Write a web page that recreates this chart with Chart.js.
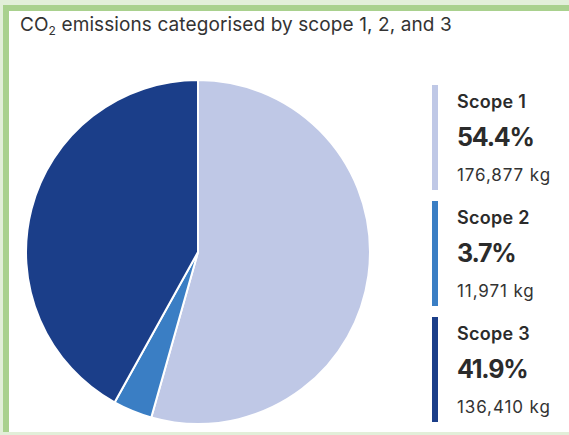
<!DOCTYPE html>
<html>
<head>
<meta charset="utf-8">
<script src="https://cdn.jsdelivr.net/npm/chart.js@4"></script>
<style>
  html, body { margin:0; padding:0; width:569px; height:435px; overflow:hidden; background:#e2efd9; font-family: Inter, "Noto Sans", sans-serif; color:#2b2b2b; }
  #card { position:absolute; left:3px; top:5px; width:600px; height:421px; background:#fff; border-left:6px solid #a9d18e; border-top:6px solid #a9d18e; }
  #title { position:absolute; left:20px; top:13px; font-size:19px; color:#333; white-space:nowrap; letter-spacing:0.1px; }
  #title sub { font-size:12px; vertical-align:-4px; line-height:0; }
  #wrap { position:absolute; left:25px; top:78px; width:346px; height:348px; }
  #legend { position:absolute; left:432px; top:0; }
  .item { position:absolute; left:0; width:140px; height:105px; }
  .bar { position:absolute; left:0; top:0; width:6px; height:105px; }
  .name { position:absolute; left:25px; top:6px; font-size:18px; font-weight:600; white-space:nowrap; letter-spacing:0.3px; }
  .pct { position:absolute; left:25px; top:37px; font-size:25px; font-weight:700; white-space:nowrap; letter-spacing:-1.2px; }
  .kg { position:absolute; left:25px; top:80px; font-size:17px; color:#333; white-space:nowrap; letter-spacing:0.9px; }
</style>
</head>
<body>
<div id="card"></div>
<div id="title">CO<sub>2</sub> emissions categorised by scope 1, 2, and 3</div>
<div id="wrap"><canvas id="c"></canvas></div>
<div id="legend"></div>
<script>
const labels = ["Scope 1", "Scope 2", "Scope 3"];
const valuesKg = [176877, 11971, 136410];
const colors = ["#bfc8e6", "#3a7ec4", "#1b3e89"];
const legendTops = [85, 201, 317];

const total = valuesKg.reduce((a, b) => a + b, 0);
const legend = document.getElementById('legend');
labels.forEach((l, i) => {
  const d = document.createElement('div');
  d.className = 'item';
  d.style.top = legendTops[i] + 'px';
  d.innerHTML = '<div class="bar" style="background:' + colors[i] + '"></div>' +
    '<div class="name">' + l + '</div>' +
    '<div class="pct">' + (valuesKg[i] / total * 100).toFixed(1) + '%</div>' +
    '<div class="kg">' + valuesKg[i].toLocaleString('en-US') + ' kg</div>';
  legend.appendChild(d);
});

new Chart(document.getElementById('c'), {
  type: 'pie',
  data: {
    labels: labels,
    datasets: [{
      data: valuesKg,
      backgroundColor: colors,
      borderColor: '#ffffff',
      borderWidth: 2
    }]
  },
  options: {
    responsive: true,
    maintainAspectRatio: false,
    animation: false,
    layout: { padding: 0 },
    plugins: { legend: { display: false }, tooltip: { enabled: false } }
  }
});
</script>
</body>
</html>
